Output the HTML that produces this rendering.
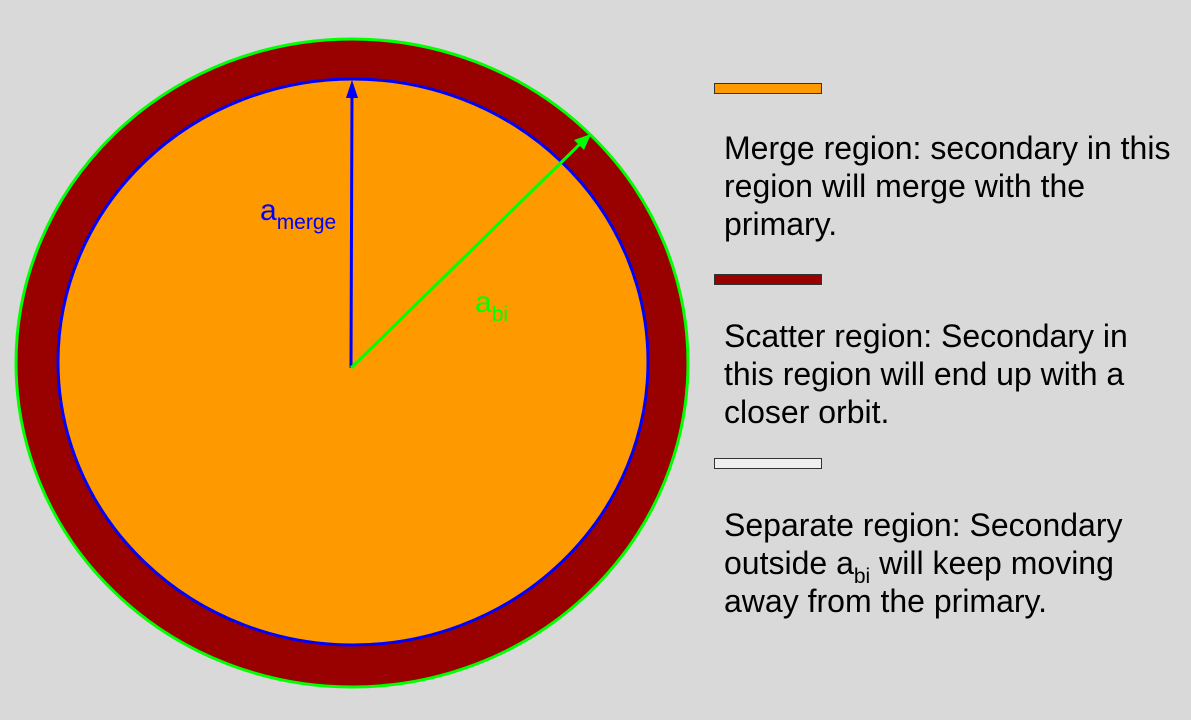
<!DOCTYPE html>
<html><head><meta charset="utf-8"><style>
body{margin:0;background:#d9d9d9;width:1191px;height:720px;overflow:hidden;font-family:"Liberation Sans",sans-serif;}
</style></head><body>
<svg width="1191" height="720" style="position:absolute;left:0;top:0">
<ellipse cx="352" cy="363" rx="336" ry="324" fill="#990000" stroke="#00ff00" stroke-width="3"/>
<ellipse cx="353" cy="362" rx="295" ry="283" fill="#ff9900" stroke="#0000ff" stroke-width="3"/>
<line x1="351" y1="368" x2="352" y2="92" stroke="#0000ff" stroke-width="3"/>
<path d="M352,80 L346,98 L358,98 z" fill="#0000ff"/>
<line x1="351" y1="368" x2="582" y2="142" stroke="#00ff00" stroke-width="3"/>
<path d="M591,134 L574,140 L584,150 z" fill="#00ff00"/>
<text x="260" y="220" font-size="30" fill="#0000ff" font-family="Liberation Sans,sans-serif">a<tspan font-size="21" dy="9">merge</tspan></text>
<text x="475" y="312" font-size="30" fill="#00ff00" font-family="Liberation Sans,sans-serif">a<tspan font-size="21" dy="9">bi</tspan></text>
<rect x="714.5" y="83.5" width="107" height="10" fill="#ff9900" stroke="#333" stroke-width="1"/>
<rect x="714.5" y="274.5" width="107" height="10" fill="#990000" stroke="#333" stroke-width="1"/>
<rect x="714.5" y="458.5" width="107" height="10" fill="#efefef" stroke="#333" stroke-width="1"/>
<g font-size="32" fill="#000" font-family="Liberation Sans,sans-serif">
<text><tspan x="724" y="159">Merge region: secondary in this</tspan><tspan x="724" y="197">region will merge with the</tspan><tspan x="724" y="235">primary.</tspan></text>
<text><tspan x="724" y="347">Scatter region: Secondary in</tspan><tspan x="724" y="385">this region will end up with a</tspan><tspan x="724" y="423">closer orbit.</tspan></text>
<text><tspan x="724" y="536">Separate region: Secondary</tspan><tspan x="724" y="574">outside a<tspan font-size="21" dy="9">bi</tspan><tspan dy="-9"> will keep moving</tspan></tspan><tspan x="724" y="612">away from the primary.</tspan></text>
</g>
</svg>
</body></html>
